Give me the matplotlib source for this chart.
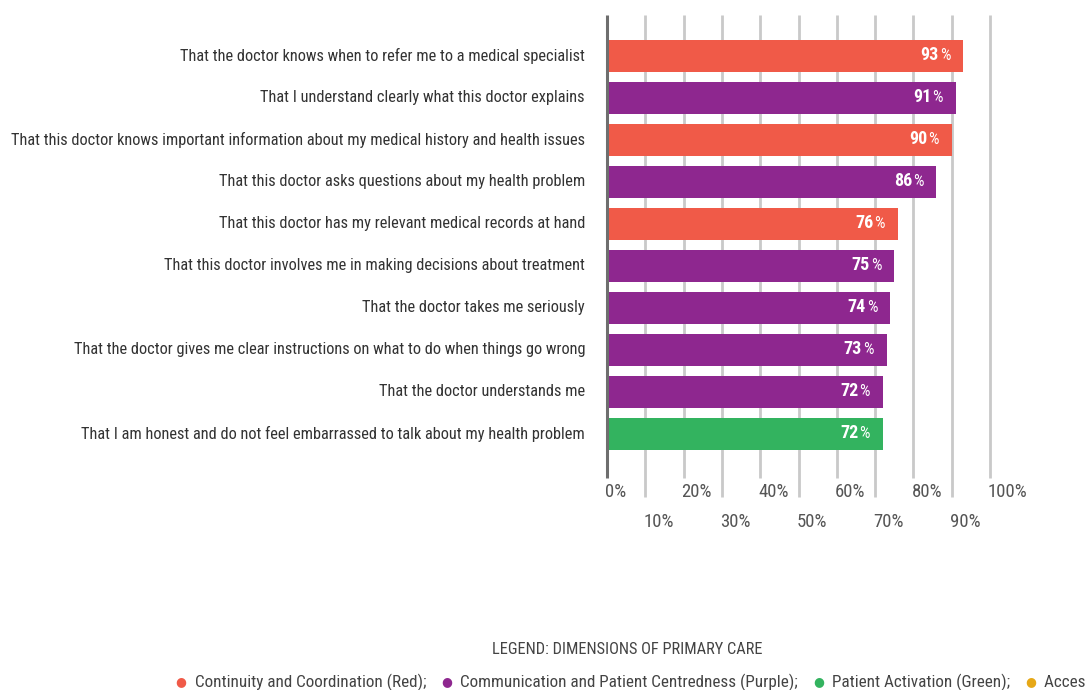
import matplotlib
matplotlib.use("Agg")
import matplotlib.pyplot as plt
from matplotlib import font_manager
from matplotlib.transforms import blended_transform_factory, offset_copy

# Data
statements = [
    "That the doctor knows when to refer me to a medical specialist",
    "That I understand clearly what this doctor explains",
    "That this doctor knows important information about my medical history and health issues",
    "That this doctor asks questions about my health problem",
    "That this doctor has my relevant medical records at hand",
    "That this doctor involves me in making decisions about treatment",
    "That the doctor takes me seriously",
    "That the doctor gives me clear instructions on what to do when things go wrong",
    "That the doctor understands me",
    "That I am honest and do not feel embarrassed to talk about my health problem",
]
values = [93, 91, 90, 86, 76, 75, 74, 73, 72, 72]
dimensions = ["red", "purple", "red", "purple", "red", "purple", "purple", "purple", "purple", "green"]
tick_values = [0, 10, 20, 30, 40, 50, 60, 70, 80, 90, 100]
tick_labels = [f"{v}%" for v in tick_values]
legend_title = "LEGEND: DIMENSIONS OF PRIMARY CARE"
legend_keys = ["red", "purple", "green", "yellow"]
legend_labels = [
    "Continuity and Coordination (Red);",
    "Communication and Patient Centredness (Purple);",
    "Patient Activation (Green);",
    "Access (Yellow)",
]

palette = {"red": "#F05A48", "purple": "#8E278F", "green": "#33B35F", "yellow": "#E6A817"}

# Pick a narrow face if one is installed
names = {f.name for f in font_manager.fontManager.ttflist}
stretch = "normal"
family = "DejaVu Sans"
for cand in ["Roboto Condensed", "Liberation Sans Narrow", "Open Sans Condensed"]:
    if cand in names:
        family = cand
        break
else:
    cond = [f for f in font_manager.fontManager.ttflist
            if f.name == "DejaVu Sans" and str(f.stretch) in ("condensed", "semi-condensed")]
    if cond:
        stretch = "condensed"
plt.rcParams["font.family"] = [family, "DejaVu Sans"]
plt.rcParams["font.stretch"] = stretch

W, H = 1086, 690
fig = plt.figure(figsize=(W / 100, H / 100), dpi=100)
fig.patch.set_facecolor("white")
renderer = fig.canvas.get_renderer()

x0, x100, ytop, ybot = 607, 990, 15, 478
ax = fig.add_axes([x0 / W, 1 - ybot / H, (x100 - x0) / W, (ybot - ytop) / H])
n = len(values)
ax.set_xlim(0, 100)
ax.set_ylim(n - 1 + 1.048, -0.976)
ax.axis("off")

blend = blended_transform_factory(ax.transData, ax.transAxes)
odd_ext = -(497 - ybot) / (ybot - ytop)
for i, t in enumerate(tick_values):
    y_low = odd_ext if i % 2 else 0.0
    if t == 0:
        ax.plot([t, t], [0, 1], transform=blend, color="#6E6E6E", lw=2.2,
                solid_capstyle="butt", zorder=3, clip_on=False)
    else:
        ax.plot([t, t], [y_low, 1], transform=blend, color="#C9C9C9", lw=2.0,
                solid_capstyle="butt", zorder=1, clip_on=False)
    ly = -(522 - ybot) / (ybot - ytop) if i % 2 else -(492 - ybot) / (ybot - ytop)
    ax.text(t, ly, tick_labels[i], transform=offset_copy(blend, fig=fig, x=-2, y=0, units="dots"),
            ha="left", va="center", fontsize=13.5, color="#555555")

ypos = list(range(n))
ax.barh(ypos, values, height=0.76, color=[palette[d] for d in dimensions], zorder=2)

for y, v, label in zip(ypos, values, statements):
    ax.text(-22 / 3.83, y, label, ha="right", va="center", fontsize=11.75, color="#333333")
    pct = ax.text(v, y, "%", transform=offset_copy(ax.transData, fig=fig, x=-13, y=0, units="dots"),
                  ha="right", va="center", fontsize=12, color="white", zorder=4)
    pw = pct.get_window_extent(renderer).width
    ax.text(v, y - 0.02, f"{v}", transform=offset_copy(ax.transData, fig=fig, x=-14 - pw, y=0, units="dots"),
            ha="right", va="center", fontsize=13, fontweight="bold", color="white", zorder=4)

fig.text(627 / W, 1 - 649 / H, legend_title, ha="center", va="center", fontsize=11.8, color="#444444")

# Legend row laid out left to right
x = 176
ly = 1 - 682 / H
for key, lab in zip(legend_keys, legend_labels):
    fig.text((x + 5) / W, ly, "\u25CF", ha="center", va="center", fontsize=9, color=palette[key],
             family="DejaVu Sans")
    t = fig.text((x + 19) / W, ly, lab, ha="left", va="center", fontsize=12.3, color="#444444")
    bb = t.get_window_extent(renderer)
    x = bb.x1 + 15

fig.savefig("out.png", dpi=100, facecolor="white")
